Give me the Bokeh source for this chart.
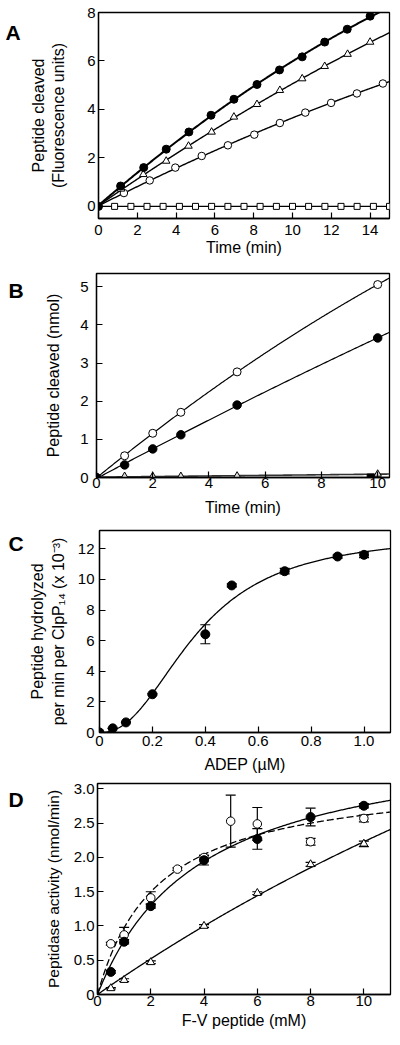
import numpy as np
from bokeh.plotting import figure
from bokeh.models import ColumnDataSource, Whisker, TeeHead, FixedTicker, Range1d, PrintfTickFormatter
from bokeh.layouts import column, row
from bokeh.embed import file_html
from bokeh.resources import INLINE
from bokeh.core.properties import value

FONT = "Liberation Sans"

# ---------------- Panel A data ----------------
a_fill_t = [0, 1.14, 2.33, 3.49, 4.66, 5.80, 6.98, 8.17, 9.33, 10.50, 11.66, 12.82, 14.00]
a_fill_y = [0, 0.84, 1.60, 2.36, 3.07, 3.76, 4.42, 5.03, 5.63, 6.17, 6.78, 7.31, 7.85]
a_tri_t = [0, 1.16, 2.31, 3.49, 4.64, 5.83, 6.98, 8.17, 9.35, 10.50, 11.66, 12.84, 14.00]
a_tri_y = [0, 0.72, 1.32, 1.87, 2.49, 3.07, 3.69, 4.21, 4.79, 5.27, 5.78, 6.28, 6.78]
a_open_t = [0, 1.31, 2.64, 3.96, 5.32, 6.67, 8.03, 9.35, 10.66, 11.99, 13.32, 14.66]
a_open_y = [0, 0.55, 1.07, 1.60, 2.08, 2.52, 2.96, 3.44, 3.87, 4.27, 4.66, 5.07]
a_sq_t = [0, 0.83, 1.67, 2.50, 3.33, 4.17, 5.00, 5.83, 6.67, 7.50, 8.33, 9.17,
          10.00, 10.83, 11.67, 12.50, 13.33, 14.17, 15.00]
a_sq_y = [0, 0, 0, 0, 0, 0, 0, 0, 0, 0, 0, 0, 0, 0, 0, 0, 0, 0, 0]
a_xticks = [0, 2, 4, 6, 8, 10, 12, 14]
a_yticks = [0, 2, 4, 6, 8]

# ---------------- Panel B data ----------------
b_t = [0, 1, 2, 3, 5, 10]
b_open_y = [0, 0.57, 1.16, 1.71, 2.77, 5.06]
b_fill_y = [0, 0.33, 0.75, 1.12, 1.90, 3.66]
b_tri_t = [1, 2, 3, 5, 10]
b_tri_y = [0.03, 0.03, 0.03, 0.04, 0.09]
b_sq_t = [9.75]
b_sq_y = [0.0]
b_xticks = [0, 2, 4, 6, 8, 10]
b_yticks = [0, 1, 2, 3, 4, 5]

# ---------------- Panel C data ----------------
c_adep = [0, 0.05, 0.1, 0.2, 0.4, 0.5, 0.7, 0.9, 1.0]
c_rate = [0, 0.27, 0.66, 2.50, 6.42, 9.61, 10.54, 11.50, 11.61]
c_err = [0, 0, 0, 0.05, 0.62, 0.10, 0.18, 0.10, 0.18]
c_vmax, c_k, c_n = 13.0, 0.37, 2.3       # Hill fit
c_xticks = [0, 0.2, 0.4, 0.6, 0.8, 1.0]
c_yticks = [0, 2, 4, 6, 8, 10, 12]

# ---------------- Panel D data ----------------
d_x = [0.5, 1, 2, 4, 6, 8, 10]
d_fill_y = [0.33, 0.77, 1.29, 1.96, 2.27, 2.59, 2.755]
d_fill_err = [0.02, 0.03, 0.03, 0.07, 0.15, 0.13, 0.03]
d_open_x = [0.5, 1, 2, 3, 4, 5, 6, 8, 10]
d_open_y = [0.74, 0.87, 1.41, 1.83, 2.00, 2.53, 2.49, 2.23, 2.57]
d_open_err = [0.02, 0.11, 0.09, 0.02, 0.03, 0.38, 0.24, 0.05, 0.05]
d_tri_y = [0.09, 0.21, 0.47, 1.00, 1.48, 1.90, 2.20]
d_tri_err = [0.01, 0.02, 0.02, 0.02, 0.02, 0.03, 0.04]
d_fill_fit = (3.84, 3.9)     # Vmax, Km
d_open_fit = (3.22, 2.3)
d_tri_fit = (12.4, 45.6)
d_xticks = [0, 2, 4, 6, 8, 10]
d_yticks = [0, 0.5, 1.0, 1.5, 2.0, 2.5, 3.0]

LETTER_W = 26
MAIN_W = 400 - LETTER_W


def make_fig(height, bl, br, bt, bb, xr, yr, xticks, yticks, tick_fs, xtitle_fs, ytitle_fs,
             xlabel, ylabel, x_std, y_std, xl_std, yl_std, xfmt=None, yfmt=None):
    p = figure(width=MAIN_W, height=height, x_range=Range1d(*xr), y_range=Range1d(*yr),
               output_backend="svg", toolbar_location=None,
               min_border_left=bl, min_border_right=br, min_border_top=bt, min_border_bottom=bb)
    p.xgrid.visible = False
    p.ygrid.visible = False
    p.outline_line_color = "black"
    p.outline_line_width = 1.3
    p.outline_line_alpha = 1
    p.background_fill_color = "white"
    p.border_fill_color = "white"
    for ax, ticks, std, lstd, lab, fmt, tfs in (
            (p.xaxis[0], xticks, x_std, xl_std, xlabel, xfmt, xtitle_fs),
            (p.yaxis[0], yticks, y_std, yl_std, ylabel, yfmt, ytitle_fs)):
        ax.ticker = FixedTicker(ticks=ticks)
        ax.major_tick_in = 6
        ax.major_tick_out = 0
        ax.minor_tick_line_color = None
        ax.axis_line_color = "black"
        ax.axis_line_width = 1.3
        ax.major_tick_line_width = 1.2
        ax.major_tick_line_color = "black"
        ax.major_label_text_font = FONT
        ax.major_label_text_font_size = f"{tick_fs}px"
        ax.major_label_text_color = "black"
        ax.axis_label = lab
        ax.axis_label_text_font = FONT
        ax.axis_label_text_font_style = "normal"
        ax.axis_label_text_font_size = f"{tfs}px"
        ax.axis_label_text_color = "black"
        ax.major_label_standoff = std
        ax.axis_label_standoff = lstd
        if fmt:
            ax.formatter = PrintfTickFormatter(format=fmt)
            ax.major_label_overrides = {0: "0"}
    return p


def letter_fig(text, height, x, y):
    q = figure(width=LETTER_W, height=height, x_range=Range1d(0, LETTER_W), y_range=Range1d(0, height),
               output_backend="svg", toolbar_location=None, min_border=0,
               x_axis_type=None, y_axis_type=None)
    q.xgrid.visible = False
    q.ygrid.visible = False
    q.outline_line_color = None
    q.background_fill_color = "white"
    q.border_fill_color = "white"
    q.text(x=[x], y=[y], text=[text], text_font=value(FONT), text_font_style="bold",
           text_font_size="21px", text_color="black", text_align="left", text_baseline="alphabetic")
    return q


def whiskers(p, xs, ys, errs, cap=10, lw=1.2):
    src = ColumnDataSource(dict(x=xs, lo=[y - e for y, e in zip(ys, errs)],
                                hi=[y + e for y, e in zip(ys, errs)]))
    w = Whisker(base="x", upper="hi", lower="lo", source=src, dimension="height",
                line_color="black", line_width=lw,
                upper_head=TeeHead(size=cap, line_color="black", line_width=lw),
                lower_head=TeeHead(size=cap, line_color="black", line_width=lw))
    p.add_layout(w)


# ---------------- Panel A ----------------
HA = 262
pA = make_fig(HA, 69, 11, 12, 44, (0, 15), (-0.5, 8), a_xticks, a_yticks, 15, 16, 16,
              "Time (min)", "Peptide cleaved\n(Fluorescence units)", 6, 3, 1, 17)
tt = np.linspace(0, 15, 300)
for ts, ys, lw in ((a_fill_t, a_fill_y, 2.0), (a_tri_t, a_tri_y, 1.4), (a_open_t, a_open_y, 1.4)):
    c = np.polyfit(ts, ys, 2)
    pA.line(tt, np.polyval(c, tt), line_color="black", line_width=lw)
pA.line(a_sq_t, a_sq_y, line_color="black", line_width=1.4)
pA.scatter(a_sq_t[1:], a_sq_y[1:], marker="square", size=6, fill_color="white", line_color="black", line_width=1)
pA.scatter(a_open_t[1:], a_open_y[1:], marker="circle", size=7.5, fill_color="white", line_color="black", line_width=1)
pA.scatter(a_tri_t[1:], a_tri_y[1:], marker="triangle", size=7.5, fill_color="white", line_color="black", line_width=1)
pA.scatter(a_fill_t, a_fill_y, marker="circle", size=8, fill_color="black", line_color="black")
lA = letter_fig("A", HA, 5, HA - 25)

# ---------------- Panel B ----------------
HB = 259
pB = make_fig(HB, 70, 11, 11, 44, (0, 10.42), (0, 5.35), b_xticks, b_yticks, 15, 16, 16,
              "Time (min)", "Peptide cleaved (nmol)", 0, 8, 8, 15)
tb = np.linspace(0, 10.42, 300)
for ys in (b_open_y, b_fill_y):
    c = np.polyfit(b_t, ys, 2)
    pB.line(tb, np.polyval(c, tb), line_color="black", line_width=1.2)
c = np.polyfit([0] + b_tri_t, [0] + b_tri_y, 1)
pB.line(tb, np.polyval(c, tb), line_color="#333333", line_width=1.6)
pB.scatter(b_tri_t, b_tri_y, marker="triangle", size=7.5, fill_color="#dddddd", line_color="black", line_width=1)
pB.scatter(b_t[1:], b_open_y[1:], marker="circle", size=8, fill_color="white", line_color="black", line_width=1)
pB.scatter(b_t, b_fill_y, marker="circle", size=8.5, fill_color="black", line_color="black")
pB.scatter(b_sq_t, b_sq_y, marker="square", size=7, fill_color="black", line_color="black")
lB = letter_fig("B", HB, 8, HB - 21)

# ---------------- Panel C ----------------
HC = 256
pC = make_fig(HC, 71, 10, 9, 45, (0, 1.1), (0, 13.2), c_xticks, c_yticks, 15, 16, 16,
              "ADEP (\u00b5M)", "Peptide hydrolyzed\nper min per ClpP\u2081\u2084 (x 10\u207b\u00b3)",
              3, 5, 7, 8, xfmt="%.1f")
xc = np.linspace(0, 1.1, 300)
pC.line(xc, c_vmax * xc ** c_n / (c_k ** c_n + xc ** c_n), line_color="black", line_width=1.3)
whiskers(pC, c_adep, c_rate, c_err, cap=10)
pC.scatter(c_adep, c_rate, marker="circle", size=9, fill_color="black", line_color="black")
lC = letter_fig("C", HC, 8, HC - 16)

# ---------------- Panel D ----------------
HD = 268
pD = make_fig(HD, 71, 10, 6, 51, (0, 11.0), (0, 3.08), d_xticks, d_yticks, 15, 16, 15.5,
              "F-V peptide (mM)", "Peptidase activity (nmol/min)", 1, 3, 3, 9, yfmt="%.1f")
xd = np.linspace(0.001, 11, 300)
vm, km = d_fill_fit
pD.line(xd, vm * xd / (km + xd), line_color="black", line_width=1.3)
vm, km = d_open_fit
pD.line(xd, vm * xd / (km + xd), line_color="black", line_width=1.3, line_dash="7 3")
vm, km = d_tri_fit
pD.line(xd, vm * xd / (km + xd), line_color="black", line_width=1.3)
whiskers(pD, d_x, d_fill_y, d_fill_err, cap=10)
whiskers(pD, d_open_x, d_open_y, d_open_err, cap=10)
whiskers(pD, d_x, d_tri_y, d_tri_err, cap=10)
pD.scatter(d_x, d_tri_y, marker="triangle", size=8, fill_color="white", line_color="black", line_width=1)
pD.scatter(d_open_x, d_open_y, marker="circle", size=8.5, fill_color="white", line_color="black", line_width=1)
pD.scatter(d_x, d_fill_y, marker="circle", size=9, fill_color="black", line_color="black")
lD = letter_fig("D", HD, 8, HD - 20)

layout = column(row(lA, pA, spacing=0), row(lB, pB, spacing=0),
                row(lC, pC, spacing=0), row(lD, pD, spacing=0), spacing=0)
open("out.html", "w").write(file_html(layout, INLINE))
